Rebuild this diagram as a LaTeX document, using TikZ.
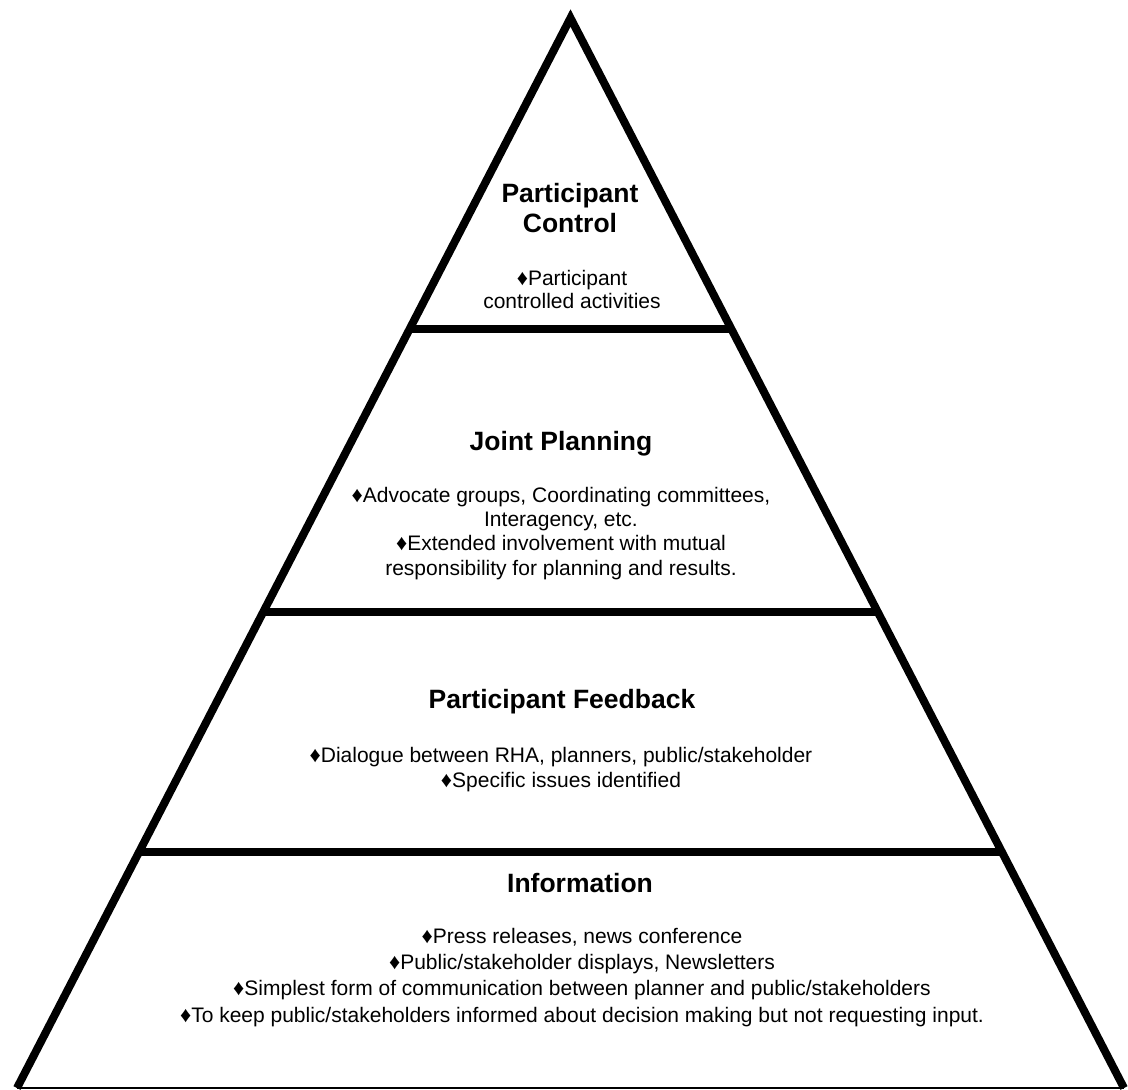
\documentclass[tikz,border=0pt]{standalone}
\usepackage{fontspec}
\setmainfont{Liberation Sans}
\usetikzlibrary{calc}

\newcommand{\dia}{{\fontsize{22}{22}\selectfont ♦}}

\begin{document}
\begin{tikzpicture}[x=1pt,y=-1pt,
		side/.style={line width=8pt,line join=miter},
		divider/.style={line width=8pt},
		level/.style={anchor=base,align=center,font=\fontsize{26.5}{30}\selectfont\bfseries},
		item/.style={anchor=base,align=center,font=\fontsize{21}{25}\selectfont}]
	\useasboundingbox (0,0) rectangle (1128,1090);
	\coordinate (apex) at (570.5,18);
	\coordinate (bl)   at (17,1088);
	\coordinate (br)   at (1124,1088);
	% pyramid outline
	\draw[side] (bl) -- (apex) -- (br);
	\draw[line width=2pt] (bl) -- (br);
	% level dividers
	\draw[divider] ($(apex)!0.2907!(bl)$) -- ($(apex)!0.2907!(br)$);
	\draw[divider] ($(apex)!0.5551!(bl)$) -- ($(apex)!0.5551!(br)$);
	\draw[divider] ($(apex)!0.7794!(bl)$) -- ($(apex)!0.7794!(br)$);
	% levels (base = last line)
	\node[level] (control)  at (570,232) {Participant\\Control};
	\node[item,font=\fontsize{21}{23}\selectfont] (controlI) at (572,308) {\dia Participant\\controlled activities};
	\node[level] (joint)    at (561,450) {Joint Planning};
	\node[item,font=\fontsize{21}{24.3}\selectfont] (jointI) at (561,575) {\dia Advocate groups, Coordinating committees,\\Interagency, etc.\\\dia Extended involvement with mutual\\responsibility for  planning and results.};
	\node[level] (feedback) at (562,708) {Participant Feedback};
	\node[item]  (feedbackI) at (561,787) {\dia Dialogue between RHA, planners, public/stakeholder\\\dia Specific issues identified};
	\node[level] (info)     at (580,892) {Information};
	\node[item,font=\fontsize{21}{26.3}\selectfont] (infoI) at (582,1022) {\dia Press releases, news conference\\\dia Public/stakeholder displays, Newsletters\\\dia Simplest form of communication between planner and public/stakeholders\\\dia To keep public/stakeholders informed about decision making but not requesting input.};
\end{tikzpicture}
\end{document}
